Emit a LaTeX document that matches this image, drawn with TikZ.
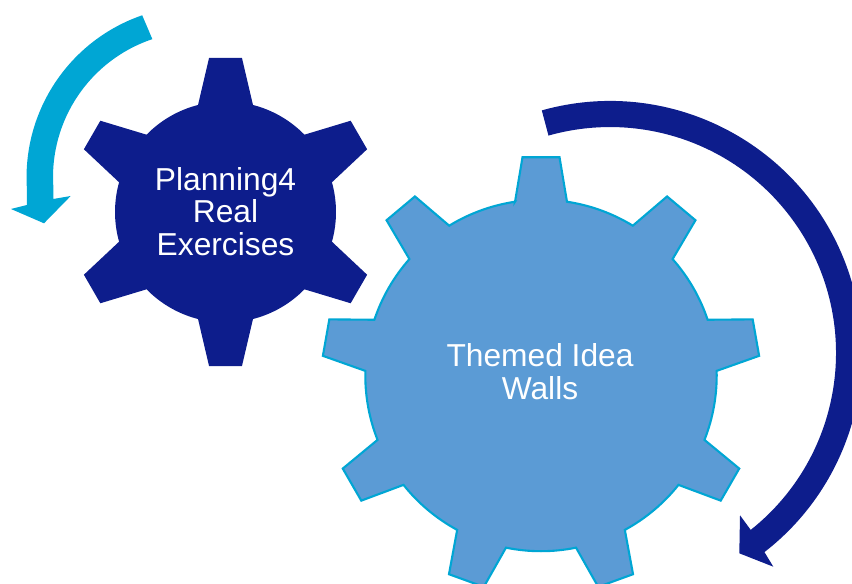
\documentclass[tikz,border=0pt]{standalone}
\usepackage{fontspec}
\setmainfont{Liberation Sans}
\definecolor{navy}{HTML}{0D1D8C}
\definecolor{skyline}{HTML}{00A6D4}
\definecolor{ideablue}{HTML}{5B9BD5}
\begin{document}
\begin{tikzpicture}[navyfill/.style={fill=navy}, skyfill/.style={fill=skyline}, ideagear/.style={fill=ideablue,draw=skyline,line width=0.6pt,line join=miter}, gearlabel/.style={align=center,text=white,inner sep=0pt,font=\fontsize{9.03}{9.3}\selectfont}]
\useasboundingbox (0,0) rectangle (8.52,5.83);
%================================================================
%	Arrows
\fill[style=skyfill] (1.422,5.677) arc[start angle=109,end angle=183,radius=1.715] -- (0.27,3.78) -- (0.11,3.74) -- (0.44,3.597) -- (0.707,3.87) -- (0.533,3.84) -- (0.533,3.97) arc[start angle=183.5,end angle=108.5,radius=1.455] -- cycle;
\fill[style=navyfill] (5.418,4.726) arc[start angle=105.7,end angle=-52.2,radius=2.52] -- (7.733,0.163) -- (7.393,0.297) -- (7.40,0.677) -- (7.507,0.531) arc[start angle=-51.5,end angle=105.8,radius=2.26] -- cycle;
%================================================================
%	Small gear
\begin{scope}[shift={(2.255,3.71)}]
\fill[style=navyfill] (104.4:1.105)
	-- (96.1:1.549) -- (83.9:1.549) -- (75.6:1.105) arc[start angle=75.6,end angle=44.4,radius=1.105]
	-- (36.1:1.549) -- (23.9:1.549) -- (15.6:1.105) arc[start angle=15.6,end angle=-15.6,radius=1.105]
	-- (-23.9:1.549) -- (-36.1:1.549) -- (-44.4:1.105) arc[start angle=-44.4,end angle=-75.6,radius=1.105]
	-- (-83.9:1.549) -- (-96.1:1.549) -- (-104.4:1.105) arc[start angle=-104.4,end angle=-135.6,radius=1.105]
	-- (-143.9:1.549) -- (-156.1:1.549) -- (-164.4:1.105) arc[start angle=-164.4,end angle=-195.6,radius=1.105]
	-- (156.1:1.549) -- (143.9:1.549) -- (135.6:1.105) arc[start angle=135.6,end angle=104.4,radius=1.105]
	-- cycle;
\end{scope}
%================================================================
%	Large gear
\begin{scope}[shift={(5.41,2.075)}]
\draw[style=ideagear] (98.5:1.757)
	-- (94.85:2.19) -- (85.15:2.19) -- (81.5:1.757) arc[start angle=81.5,end angle=58.5,radius=1.757]
	-- (54.85:2.19) -- (45.15:2.19) -- (41.5:1.757) arc[start angle=41.5,end angle=18.5,radius=1.757]
	-- (14.85:2.19) -- (5.15:2.19) -- (1.5:1.757) arc[start angle=1.5,end angle=-21.5,radius=1.757]
	-- (-25.15:2.19) -- (-34.85:2.19) -- (-38.5:1.757) arc[start angle=-38.5,end angle=-61.5,radius=1.757]
	-- (-65.15:2.19) -- (-74.85:2.19) -- (-78.5:1.757) arc[start angle=-78.5,end angle=-101.5,radius=1.757]
	-- (-105.15:2.19) -- (-114.85:2.19) -- (-118.5:1.757) arc[start angle=-118.5,end angle=-141.5,radius=1.757]
	-- (-145.15:2.19) -- (-154.85:2.19) -- (-158.5:1.757) arc[start angle=-158.5,end angle=-181.5,radius=1.757]
	-- (174.85:2.19) -- (165.15:2.19) -- (161.5:1.757) arc[start angle=161.5,end angle=138.5,radius=1.757]
	-- (134.85:2.19) -- (125.15:2.19) -- (121.5:1.757) arc[start angle=121.5,end angle=98.5,radius=1.757]
	-- cycle;
\end{scope}
%================================================================
%	Labels
\node[style=gearlabel] (planning) at (2.255,3.715) {Planning4\\Real\\Exercises};
\node[style=gearlabel] (themed) at (5.40,2.115) {Themed Idea\\Walls};
%================================================================
\end{tikzpicture}
\end{document}
